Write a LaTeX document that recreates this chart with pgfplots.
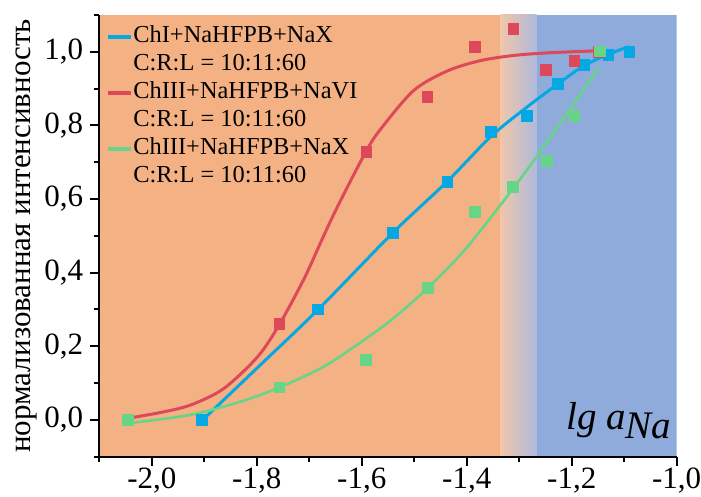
\documentclass[border=0pt]{standalone}
\usepackage{fontspec}
\setmainfont{Liberation Serif}
\usepackage{pgfplots}
\pgfplotsset{compat=1.18}
\definecolor{blueC}{RGB}{5,168,226}
\definecolor{redC}{RGB}{221,72,90}
\definecolor{greenC}{RGB}{104,212,136}
\definecolor{bgO}{RGB}{244,178,132}
\definecolor{bgB}{RGB}{143,171,220}
\definecolor{grL}{RGB}{240,198,170}
\definecolor{grR}{RGB}{175,186,220}
\begin{document}
\begin{tikzpicture}
\useasboundingbox (-49.65pt,-20.15pt) rectangle (300.85pt,228.35pt);
\begin{axis}[
  scale only axis,
  width=288.7pt, height=220.85pt,
  xmin=-2.1, xmax=-1.0, ymin=-0.1, ymax=1.1,
  axis lines*=left,
  axis on top,
  axis line style={line width=1pt, black},
  xtick={-2.0,-1.8,-1.6,-1.4,-1.2,-1.0},
  minor xtick={-2.1,-1.9,-1.7,-1.5,-1.3,-1.1},
  ytick={0,0.2,0.4,0.6,0.8,1.0},
  minor ytick={-0.1,0.1,0.3,0.5,0.7,0.9,1.1},
  tick align=outside,
  major tick length=4.5pt, minor tick length=2.8pt,
  every tick/.style={line width=1pt, black},
  /pgf/number format/assume math mode=true,
  /pgf/number format/.cd, fixed, fixed zerofill, precision=1, use comma,
  /pgfplots/.cd,
  tick label style={font=\fontsize{15.5}{18}\selectfont},
  xticklabel style={inner sep=1pt, anchor=north},
  ylabel={нормализованная интенсивность},
  ylabel style={at={(axis description cs:-0.1183,0.5)}, anchor=base, font=\fontsize{15.5}{18}\selectfont},
  legend style={at={(axis description cs:0.0116,0.9826)}, anchor=north west, draw=none, fill=none,
    inner xsep=0pt, inner ysep=0pt, column sep=0pt, row sep=0pt,
    font=\fontsize{12.2}{14}\selectfont,
    nodes={inner sep=0pt, text height=9.5pt, text depth=4.5pt}},
  legend cell align=left,
  legend image code/.code={\draw[#1] (0pt,0pt) -- (11.5pt,0pt);},
]
% background zones
\fill[bgO] (axis cs:-2.1,-0.1) rectangle (axis cs:-1.336,1.1);
\shade[left color=grL, right color=grR] (axis cs:-1.336,-0.1) rectangle (axis cs:-1.267,1.1);
\fill[bgB] (axis cs:-1.267,-0.1) rectangle (axis cs:-1.0,1.1);

% fitted curves
\addplot[blueC, line width=1.5pt, smooth, forget plot] coordinates {
(-1.900,0.004) (-1.80,0.14) (-1.683,0.30) (-1.541,0.508) (-1.437,0.648) (-1.354,0.77)
(-1.285,0.85) (-1.227,0.912) (-1.176,0.963) (-1.130,0.993) (-1.092,1.014)};
\addplot[redC, line width=1.5pt, smooth, forget plot] coordinates {
(-2.043,0.005) (-1.98,0.021) (-1.925,0.041) (-1.863,0.085) (-1.798,0.172)
(-1.757,0.259) (-1.71,0.383) (-1.678,0.483) (-1.646,0.580)
(-1.592,0.729) (-1.564,0.79) (-1.501,0.895) (-1.437,0.948)
(-1.374,0.976) (-1.311,0.99) (-1.247,0.997) (-1.148,1.003)};
\addplot[greenC, line width=1.3pt, smooth, forget plot] coordinates {
(-2.043,-0.009) (-1.925,0.014) (-1.830,0.05) (-1.757,0.088) (-1.672,0.145) (-1.608,0.205)
(-1.545,0.27) (-1.473,0.36) (-1.402,0.465) (-1.312,0.628) (-1.247,0.755) (-1.148,0.957)};

% data points
\addplot[only marks, mark=square*, mark size=2.7pt, mark options={draw=blueC, fill=blueC}, forget plot] coordinates {
(-1.904,0.0) (-1.683,0.300) (-1.541,0.509) (-1.437,0.646) (-1.354,0.782) (-1.285,0.826)
(-1.226,0.912) (-1.176,0.964) (-1.130,0.992) (-1.090,1.000)};
\addplot[only marks, mark=square*, mark size=2.7pt, mark options={draw=redC, fill=redC}, forget plot] coordinates {
(-2.045,0.0) (-1.757,0.260) (-1.591,0.729) (-1.475,0.877) (-1.385,1.014) (-1.311,1.062)
(-1.249,0.951) (-1.195,0.976) (-1.148,1.0)};
\addplot[only marks, mark=square*, mark size=2.7pt, mark options={draw=greenC, fill=greenC}, forget plot] coordinates {
(-2.045,0.0) (-1.757,0.088) (-1.592,0.164) (-1.474,0.358) (-1.385,0.566) (-1.312,0.632)
(-1.248,0.703) (-1.195,0.826) (-1.147,1.001)};

\addlegendimage{blueC, line width=2pt}\addlegendentry{ChI+NaHFPB+NaX}
\addlegendimage{empty legend}\addlegendentry{C:R:L = 10:11:60}
\addlegendimage{redC, line width=2pt}\addlegendentry{ChIII+NaHFPB+NaVI}
\addlegendimage{empty legend}\addlegendentry{C:R:L = 10:11:60}
\addlegendimage{greenC, line width=2pt}\addlegendentry{ChIII+NaHFPB+NaX}
\addlegendimage{empty legend}\addlegendentry{C:R:L = 10:11:60}

\node[anchor=base east, inner sep=0pt, font=\fontsize{19.5}{22}\selectfont\itshape] at (axis cs:-1.0095,-0.0272) {lg a\raisebox{-4.5pt}{Na}};
\end{axis}
\end{tikzpicture}
\end{document}
